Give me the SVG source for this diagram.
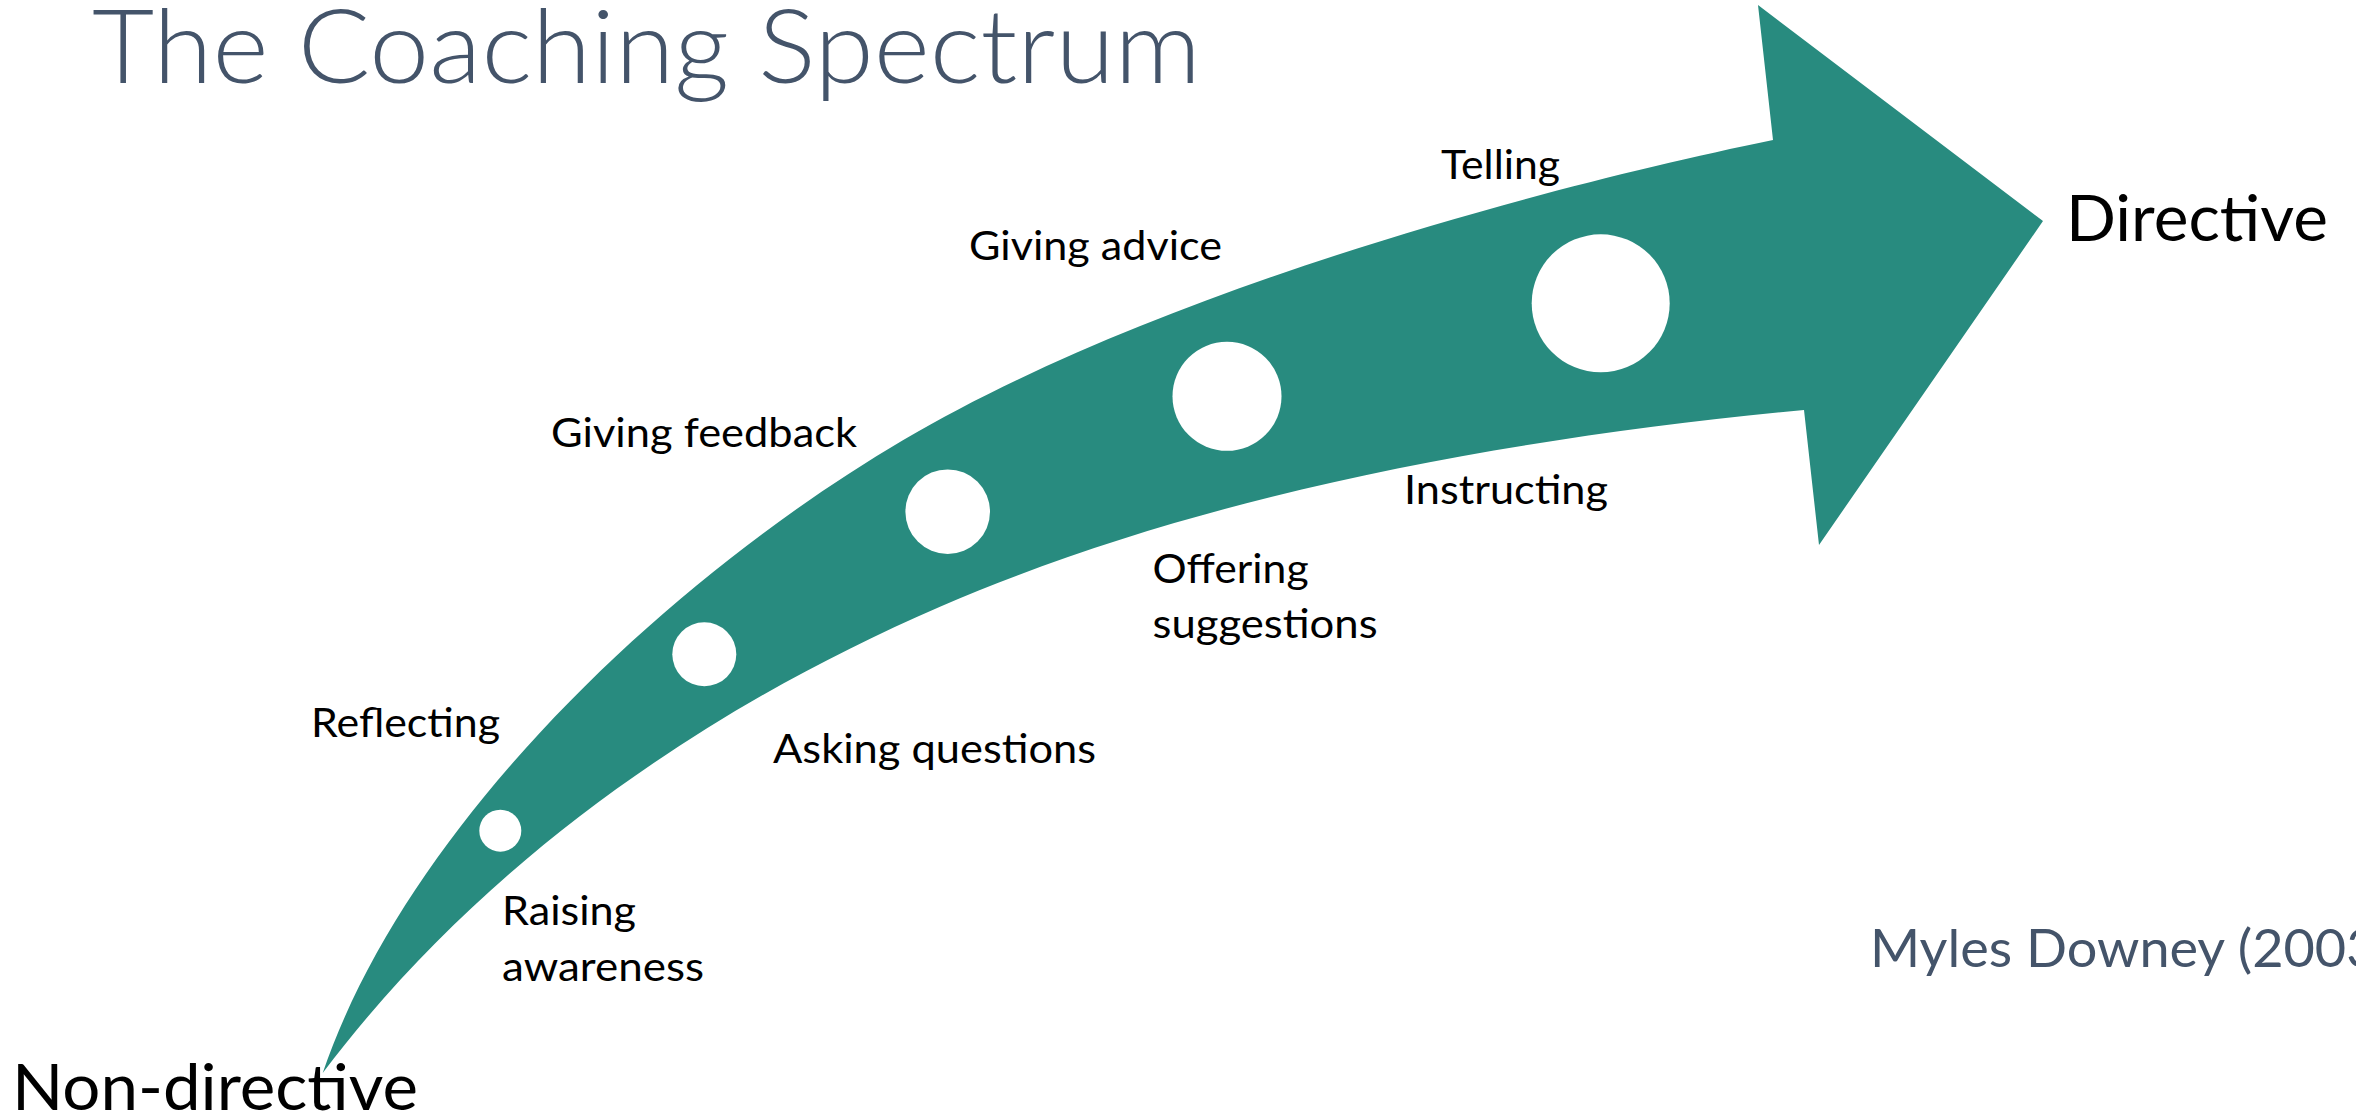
<svg xmlns="http://www.w3.org/2000/svg" width="2356" height="1117" viewBox="0 0 2356 1117">
  <style>
    .bg { fill: #ffffff; }
    .title { font-family: Lato, "Open Sans", "Liberation Sans", sans-serif; font-weight: 300; font-size: 102px; fill: #44546A; }
    .cite { font-family: Lato, "Open Sans", "Liberation Sans", sans-serif; font-size: 52px; fill: #44546A; }
    .label { font-family: Lato, "Open Sans", "Liberation Sans", sans-serif; font-size: 41px; fill: #000000; }
    .pole { font-family: Lato, "Open Sans", "Liberation Sans", sans-serif; font-size: 64px; fill: #000000; }
    .band { fill: #288B7F; }
    .step { fill: #ffffff; }
  </style>

  <rect class="bg" x="0" y="0" width="2356" height="1117"/>

  <g id="title">
    <text class="title" x="92" y="82.7" textLength="1109" lengthAdjust="spacingAndGlyphs">The Coaching Spectrum</text>
  </g>

  <!-- curved spectrum arrow: upper edge, head, then lower edge back to the tail -->
  <g id="spectrum-arrow">
    <path class="band" d="M322.7,1073
      C406.7,827 662.2,582.2 903.3,440
      C1144.4,297.8 1518.2,192.3 1773,140
      L1758,5 L2043,221 L1819,545 L1804,410
      C1515.4,437.8 1206.2,491.6 940,606.7
      C701.3,709.9 479.2,865.3 322.7,1073 Z"/>
  </g>

  <!-- stages along the arrow, growing towards the directive end -->
  <g id="step-1"><circle class="step" cx="500.3" cy="830.7" r="21"/></g>
  <g id="step-2"><circle class="step" cx="704.3" cy="654.3" r="32"/></g>
  <g id="step-3"><circle class="step" cx="947.7" cy="511.7" r="42.3"/></g>
  <g id="step-4"><circle class="step" cx="1227" cy="396.3" r="54.5"/></g>
  <g id="step-5"><circle class="step" cx="1600.7" cy="303.3" r="69"/></g>

  <g id="label-reflecting">
    <text class="label" x="311" y="736.7" textLength="189" lengthAdjust="spacingAndGlyphs">Reflecting</text>
  </g>
  <g id="label-raising-awareness">
    <text class="label" x="502" y="925" textLength="134" lengthAdjust="spacingAndGlyphs">Raising</text>
    <text class="label" x="502" y="980.7" textLength="202" lengthAdjust="spacingAndGlyphs">awareness</text>
  </g>
  <g id="label-giving-feedback">
    <text class="label" x="551" y="446.7" textLength="306" lengthAdjust="spacingAndGlyphs">Giving feedback</text>
  </g>
  <g id="label-asking-questions">
    <text class="label" x="773" y="763.3" textLength="323" lengthAdjust="spacingAndGlyphs">Asking questions</text>
  </g>
  <g id="label-offering-suggestions">
    <text class="label" x="1152.6" y="583.3" textLength="156" lengthAdjust="spacingAndGlyphs">Offering</text>
    <text class="label" x="1152.6" y="638.3" textLength="225" lengthAdjust="spacingAndGlyphs">suggestions</text>
  </g>
  <g id="label-giving-advice">
    <text class="label" x="969" y="260" textLength="253" lengthAdjust="spacingAndGlyphs">Giving advice</text>
  </g>
  <g id="label-telling">
    <text class="label" x="1441" y="179.3" textLength="119" lengthAdjust="spacingAndGlyphs">Telling</text>
  </g>
  <g id="label-instructing">
    <text class="label" x="1404" y="504.3" textLength="204" lengthAdjust="spacingAndGlyphs">Instructing</text>
  </g>

  <g id="pole-directive">
    <text class="pole" x="2066" y="240.7" textLength="262" lengthAdjust="spacingAndGlyphs">Directive</text>
  </g>
  <g id="pole-non-directive">
    <text class="pole" x="12" y="1110" textLength="406" lengthAdjust="spacingAndGlyphs">Non-directive</text>
  </g>

  <g id="citation">
    <text class="cite" x="1870" y="967.3" textLength="522" lengthAdjust="spacingAndGlyphs">Myles Downey (2003)</text>
  </g>
</svg>
